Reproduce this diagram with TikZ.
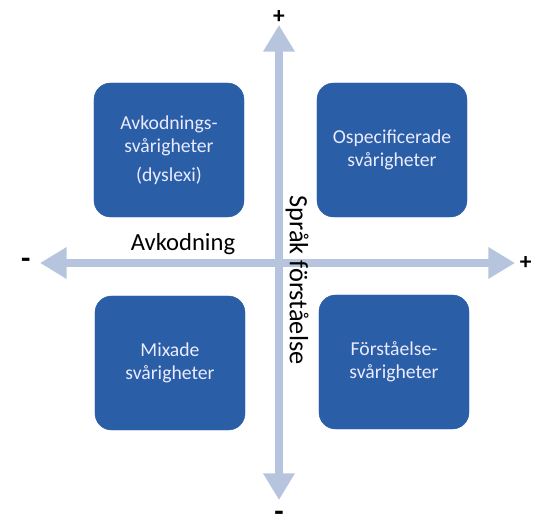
\documentclass[tikz,border=0pt]{standalone}
\usepackage{fontspec}
\setmainfont{Carlito}
\usepackage{xcolor}
\usetikzlibrary{positioning, arrows.meta}

\definecolor{quadblue}{RGB}{42,94,166}
\definecolor{axisblue}{RGB}{182,196,221}

\begin{document}
\begin{tikzpicture}[
            x=0.03cm, y=-0.03cm, % 1 unit = 1 px of the layout
            quad/.style={rectangle, draw=quadblue, fill=quadblue, rounded corners=0.5cm, minimum width=4.5cm, minimum height=4.02cm, text=white!92!blue, align=center, font=\fontsize{16.8}{20}\selectfont},
            axis/.style={draw=axisblue, line width=0.24cm, {Triangle[width=0.9cm, length=0.8cm]}-{Triangle[width=0.9cm, length=0.8cm]}},
            sign/.style={font=\fontsize{20}{20}\selectfont\bfseries, inner sep=1pt},
            axlabel/.style={font=\fontsize{21}{22}\selectfont, inner sep=0pt}
        ]
            \useasboundingbox (0,0) rectangle (547,532);

            % axes
            \coordinate (west) at (40,263);
            \coordinate (east) at (515,263);
            \coordinate (north) at (279,25);
            \coordinate (south) at (279,500);
            \draw[axis] (west) -- (east);
            \draw[axis] (south) -- (north);

            \node[sign, font=\fontsize{26}{26}\selectfont\bfseries, left=7pt of west] (minusW) {-};
            \node[sign, right=3pt of east] (plusE) {+};
            \node[sign, above=0pt of north] (plusN) {+};
            \node[sign, font=\fontsize{26}{26}\selectfont\bfseries, below=8pt of south] (minusS) {-};

            \node[axlabel] (avk) at (183,244) {Avkodning};
            \node[axlabel, font=\fontsize{22.5}{23}\selectfont, rotate=-90] (sprak) at (297,280) {Språk förståelse};

            % quadrants
            \node[quad] (dyslexi) at (169,150) {Avkodnings-\\svårigheter\\[4pt](dyslexi)};
            \node[quad] (ospec) at (392,150) {Ospecificerade\\svårigheter};
            \node[quad] (mixade) at (170,363) {Mixade\\svårigheter};
            \node[quad] (forst) at (394,362) {Förståelse-\\svårigheter};
        \end{tikzpicture}
\end{document}
